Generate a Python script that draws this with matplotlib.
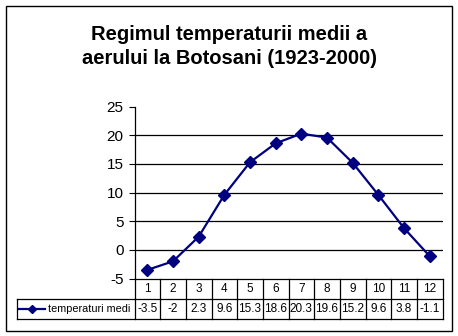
import matplotlib
matplotlib.use("Agg")
import matplotlib.pyplot as plt
from matplotlib.lines import Line2D
from matplotlib.patches import Rectangle
from matplotlib.transforms import blended_transform_factory

plt.rcParams['font.family'] = ['Liberation Sans', 'DejaVu Sans']

months = [1, 2, 3, 4, 5, 6, 7, 8, 9, 10, 11, 12]
temps = [-3.5, -2, 2.3, 9.6, 15.3, 18.6, 20.3, 19.6, 15.2, 9.6, 3.8, -1.1]
series_name = "temperaturi medi"
title = "Regimul temperaturii medii a\naerului la Botosani (1923-2000)"
y_ticks = [-5, 0, 5, 10, 15, 20, 25]

W, H = 458, 336
DPI = 100
navy = "#000080"

fig = plt.figure(figsize=(W / DPI, H / DPI), dpi=DPI)


def fx(px):
    return px / W


def fy(py):
    return 1 - py / H


# outer chart border
fig.add_artist(Rectangle((fx(5.5), fy(330.5)), fx(446), (325) / H,
                         transform=fig.transFigure, fill=False,
                         edgecolor="black", linewidth=1.0))

left_px, right_px, top_px, bottom_px = 134.5, 442.5, 106.7, 278.5
ax = fig.add_axes([fx(left_px), fy(bottom_px),
                   (right_px - left_px) / W, (bottom_px - top_px) / H])

ax.set_xlim(0.5, 12.5)
ax.set_ylim(-5, 25)
ax.set_yticks(y_ticks)
ax.set_yticklabels([str(v) for v in y_ticks], fontsize=11)
ax.tick_params(axis="y", direction="out", length=4, width=0.8, pad=4)
ax.set_xticks([])
for s in ["top", "right", "bottom"]:
    ax.spines[s].set_visible(False)
ax.spines["left"].set_linewidth(0.9)

for v in y_ticks:
    if -5 < v < 25:
        ax.axhline(v, color="black", linewidth=0.9, zorder=1)

ax.plot(months, temps, color=navy, linewidth=1.6, marker="D",
        markersize=6, markerfacecolor=navy, markeredgecolor=navy,
        zorder=3, clip_on=False)

fig.text(0.5, fy(46.5), title, ha="center", va="center", fontsize=14.5,
         fontweight="bold", linespacing=1.3)

# data table under the plot
tr = blended_transform_factory(ax.transData, fig.transFigure)
row1_top, row_mid, row_bot = 278.5, 299, 319
cell_left_px = 16.5
lw = 0.9

fig.add_artist(Line2D([0.5, 12.5], [fy(row1_top)] * 2, transform=tr,
                      color="black", linewidth=lw))
for yy in (row_mid, row_bot):
    fig.add_artist(Line2D([fx(cell_left_px), fx(right_px)], [fy(yy)] * 2,
                          transform=fig.transFigure, color="black",
                          linewidth=lw))
for xb in [m - 0.5 for m in months] + [12.5]:
    fig.add_artist(Line2D([xb, xb], [fy(row1_top), fy(row_bot)],
                          transform=tr, color="black", linewidth=lw))
fig.add_artist(Line2D([fx(cell_left_px)] * 2, [fy(row_mid), fy(row_bot)],
                      transform=fig.transFigure, color="black",
                      linewidth=lw))

for m, t in zip(months, temps):
    fig.text(m, fy((row1_top + row_mid) / 2), str(m), transform=tr,
             ha="center", va="center", fontsize=8.5)
    fig.text(m, fy((row_mid + row_bot) / 2), f"{t:g}", transform=tr,
             ha="center", va="center", fontsize=8.5)

# legend key inside the first cell
ky = fy((row_mid + row_bot) / 2)
fig.add_artist(Line2D([fx(19), fx(45)], [ky, ky], transform=fig.transFigure,
                      color=navy, linewidth=1.6))
fig.add_artist(Line2D([fx(32)], [ky], transform=fig.transFigure,
                      marker="D", markersize=4, color=navy))
fig.text(fx(47.5), ky, series_name, ha="left", va="center", fontsize=7.8)

fig.savefig("out.png", dpi=DPI)
